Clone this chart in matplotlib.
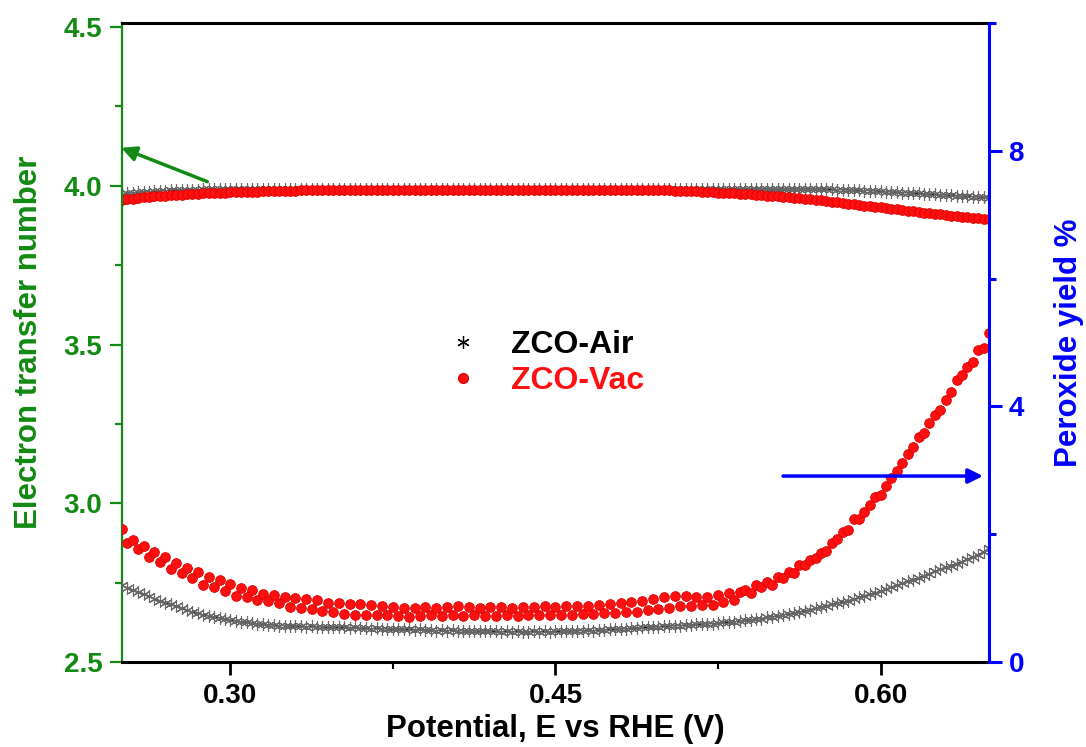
import matplotlib
matplotlib.use('Agg')
import matplotlib.pyplot as plt
from matplotlib.lines import Line2D
from matplotlib.ticker import MultipleLocator

plt.rcParams['font.family'] = ['Liberation Sans', 'DejaVu Sans']
plt.rcParams['font.weight'] = 'bold'

# potential sweep (V vs RHE)
potential = [
    0.2500, 0.2525, 0.2550, 0.2575, 0.2600, 0.2625, 0.2650, 0.2675, 0.2700, 0.2725,
    0.2750, 0.2775, 0.2800, 0.2825, 0.2850, 0.2875, 0.2900, 0.2925, 0.2950, 0.2975,
    0.3000, 0.3025, 0.3050, 0.3075, 0.3100, 0.3125, 0.3150, 0.3175, 0.3200, 0.3225,
    0.3250, 0.3275, 0.3300, 0.3325, 0.3350, 0.3375, 0.3400, 0.3425, 0.3450, 0.3475,
    0.3500, 0.3525, 0.3550, 0.3575, 0.3600, 0.3625, 0.3650, 0.3675, 0.3700, 0.3725,
    0.3750, 0.3775, 0.3800, 0.3825, 0.3850, 0.3875, 0.3900, 0.3925, 0.3950, 0.3975,
    0.4000, 0.4025, 0.4050, 0.4075, 0.4100, 0.4125, 0.4150, 0.4175, 0.4200, 0.4225,
    0.4250, 0.4275, 0.4300, 0.4325, 0.4350, 0.4375, 0.4400, 0.4425, 0.4450, 0.4475,
    0.4500, 0.4525, 0.4550, 0.4575, 0.4600, 0.4625, 0.4650, 0.4675, 0.4700, 0.4725,
    0.4750, 0.4775, 0.4800, 0.4825, 0.4850, 0.4875, 0.4900, 0.4925, 0.4950, 0.4975,
    0.5000, 0.5025, 0.5050, 0.5075, 0.5100, 0.5125, 0.5150, 0.5175, 0.5200, 0.5225,
    0.5250, 0.5275, 0.5300, 0.5325, 0.5350, 0.5375, 0.5400, 0.5425, 0.5450, 0.5475,
    0.5500, 0.5525, 0.5550, 0.5575, 0.5600, 0.5625, 0.5650, 0.5675, 0.5700, 0.5725,
    0.5750, 0.5775, 0.5800, 0.5825, 0.5850, 0.5875, 0.5900, 0.5925, 0.5950, 0.5975,
    0.6000, 0.6025, 0.6050, 0.6075, 0.6100, 0.6125, 0.6150, 0.6175, 0.6200, 0.6225,
    0.6250, 0.6275, 0.6300, 0.6325, 0.6350, 0.6375, 0.6400, 0.6425, 0.6450, 0.6475,
    0.6500,
]

# electron transfer number (left axis)
n_air = [
    3.975, 3.977, 3.978, 3.980, 3.981, 3.982, 3.983, 3.984, 3.985, 3.986,
    3.986, 3.987, 3.987, 3.988, 3.988, 3.989, 3.989, 3.989, 3.990, 3.990,
    3.990, 3.990, 3.990, 3.990, 3.990, 3.990, 3.990, 3.990, 3.990, 3.990,
    3.990, 3.990, 3.990, 3.990, 3.990, 3.990, 3.990, 3.990, 3.990, 3.990,
    3.990, 3.990, 3.990, 3.990, 3.990, 3.990, 3.990, 3.990, 3.990, 3.990,
    3.990, 3.990, 3.990, 3.990, 3.990, 3.990, 3.990, 3.990, 3.990, 3.990,
    3.990, 3.990, 3.990, 3.990, 3.990, 3.990, 3.990, 3.990, 3.990, 3.990,
    3.990, 3.990, 3.990, 3.990, 3.990, 3.990, 3.990, 3.990, 3.990, 3.990,
    3.990, 3.990, 3.990, 3.990, 3.990, 3.990, 3.990, 3.990, 3.990, 3.990,
    3.990, 3.990, 3.990, 3.990, 3.990, 3.990, 3.990, 3.990, 3.990, 3.990,
    3.990, 3.990, 3.990, 3.990, 3.990, 3.990, 3.990, 3.990, 3.990, 3.990,
    3.990, 3.990, 3.990, 3.990, 3.990, 3.990, 3.990, 3.990, 3.990, 3.990,
    3.990, 3.990, 3.990, 3.990, 3.990, 3.990, 3.990, 3.990, 3.990, 3.990,
    3.989, 3.989, 3.988, 3.988, 3.987, 3.987, 3.986, 3.985, 3.985, 3.984,
    3.983, 3.982, 3.981, 3.980, 3.979, 3.978, 3.977, 3.976, 3.975, 3.974,
    3.973, 3.972, 3.971, 3.970, 3.969, 3.968, 3.967, 3.966, 3.965, 3.964,
    3.963,
]
n_vac = [
    3.955, 3.958, 3.960, 3.962, 3.964, 3.966, 3.967, 3.968, 3.969, 3.970,
    3.971, 3.972, 3.973, 3.974, 3.975, 3.976, 3.977, 3.978, 3.978, 3.979,
    3.980, 3.980, 3.981, 3.981, 3.982, 3.982, 3.983, 3.983, 3.984, 3.984,
    3.985, 3.985, 3.985, 3.986, 3.986, 3.986, 3.986, 3.987, 3.987, 3.987,
    3.987, 3.987, 3.987, 3.987, 3.987, 3.987, 3.987, 3.987, 3.987, 3.987,
    3.987, 3.987, 3.987, 3.987, 3.987, 3.987, 3.987, 3.987, 3.987, 3.987,
    3.987, 3.987, 3.987, 3.987, 3.987, 3.987, 3.987, 3.987, 3.987, 3.987,
    3.987, 3.987, 3.987, 3.987, 3.987, 3.987, 3.987, 3.987, 3.987, 3.987,
    3.987, 3.987, 3.987, 3.987, 3.987, 3.987, 3.987, 3.987, 3.987, 3.987,
    3.987, 3.987, 3.987, 3.987, 3.987, 3.987, 3.987, 3.987, 3.987, 3.987,
    3.986, 3.986, 3.985, 3.985, 3.984, 3.984, 3.983, 3.982, 3.981, 3.980,
    3.979, 3.978, 3.977, 3.976, 3.975, 3.974, 3.973, 3.972, 3.971, 3.969,
    3.968, 3.967, 3.966, 3.964, 3.963, 3.961, 3.959, 3.958, 3.956, 3.954,
    3.952, 3.950, 3.948, 3.946, 3.944, 3.942, 3.940, 3.938, 3.936, 3.934,
    3.932, 3.930, 3.928, 3.926, 3.924, 3.922, 3.920, 3.918, 3.916, 3.914,
    3.912, 3.910, 3.908, 3.906, 3.905, 3.903, 3.901, 3.900, 3.898, 3.897,
    3.895,
]

# peroxide yield % (right axis)
h2o2_air = [
    1.20, 1.16, 1.13, 1.09, 1.06, 1.03, 0.99, 0.96, 0.93, 0.90,
    0.87, 0.84, 0.81, 0.78, 0.76, 0.74, 0.72, 0.70, 0.69, 0.67,
    0.66, 0.64, 0.63, 0.62, 0.61, 0.60, 0.59, 0.58, 0.58, 0.57,
    0.57, 0.56, 0.56, 0.56, 0.55, 0.56, 0.55, 0.55, 0.54, 0.55,
    0.54, 0.54, 0.53, 0.54, 0.53, 0.53, 0.52, 0.53, 0.52, 0.52,
    0.51, 0.52, 0.51, 0.51, 0.50, 0.51, 0.50, 0.50, 0.49, 0.50,
    0.49, 0.50, 0.49, 0.49, 0.48, 0.49, 0.48, 0.49, 0.48, 0.48,
    0.47, 0.48, 0.47, 0.48, 0.47, 0.47, 0.48, 0.47, 0.48, 0.47,
    0.48, 0.48, 0.49, 0.48, 0.49, 0.49, 0.50, 0.49, 0.50, 0.50,
    0.51, 0.51, 0.52, 0.52, 0.53, 0.53, 0.54, 0.54, 0.55, 0.55,
    0.56, 0.56, 0.57, 0.57, 0.58, 0.58, 0.59, 0.59, 0.60, 0.60,
    0.61, 0.62, 0.62, 0.63, 0.64, 0.65, 0.66, 0.67, 0.68, 0.70,
    0.71, 0.72, 0.74, 0.75, 0.77, 0.78, 0.80, 0.82, 0.84, 0.86,
    0.88, 0.90, 0.92, 0.94, 0.96, 0.98, 1.01, 1.03, 1.06, 1.08,
    1.11, 1.14, 1.17, 1.20, 1.23, 1.26, 1.29, 1.32, 1.35, 1.38,
    1.42, 1.45, 1.48, 1.51, 1.54, 1.57, 1.61, 1.64, 1.68, 1.72,
    1.78,
]
h2o2_vac = [
    2.08, 1.86, 1.91, 1.77, 1.82, 1.64, 1.72, 1.56, 1.64, 1.46,
    1.55, 1.39, 1.47, 1.31, 1.41, 1.20, 1.33, 1.17, 1.28, 1.11,
    1.22, 1.03, 1.16, 1.02, 1.13, 0.97, 1.06, 0.95, 1.05, 0.92,
    1.02, 0.86, 1.00, 0.85, 0.99, 0.83, 0.97, 0.80, 0.93, 0.78,
    0.92, 0.75, 0.91, 0.74, 0.90, 0.74, 0.89, 0.74, 0.87, 0.73,
    0.86, 0.72, 0.85, 0.71, 0.85, 0.72, 0.86, 0.73, 0.85, 0.72,
    0.86, 0.73, 0.87, 0.72, 0.86, 0.73, 0.85, 0.72, 0.86, 0.72,
    0.86, 0.73, 0.85, 0.72, 0.86, 0.73, 0.86, 0.73, 0.87, 0.74,
    0.86, 0.74, 0.87, 0.74, 0.87, 0.75, 0.88, 0.75, 0.89, 0.76,
    0.90, 0.77, 0.92, 0.78, 0.94, 0.79, 0.96, 0.81, 0.99, 0.83,
    1.01, 0.85, 1.03, 0.87, 1.04, 0.88, 1.02, 0.89, 1.02, 0.89,
    1.05, 0.94, 1.08, 0.97, 1.10, 1.13, 1.08, 1.20, 1.17, 1.25,
    1.20, 1.33, 1.31, 1.41, 1.39, 1.52, 1.52, 1.60, 1.63, 1.71,
    1.74, 1.86, 1.92, 2.03, 2.07, 2.24, 2.24, 2.35, 2.46, 2.58,
    2.61, 2.75, 2.88, 2.99, 3.11, 3.26, 3.36, 3.52, 3.58, 3.74,
    3.87, 3.94, 4.10, 4.23, 4.41, 4.49, 4.62, 4.69, 4.88, 4.91,
    5.15,
]

labels = ['ZCO-Air', 'ZCO-Vac']
green = '#138a13'
blue = '#0000ff'
red = '#ff1010'

fig = plt.figure(figsize=(10.86, 7.47), dpi=100)
ax = fig.add_axes([0.1123, 0.1138, 0.7984, 0.8554])
ax2 = ax.twinx()

air_style = dict(color='black', lw=0.8, marker=(6, 2, 0), markersize=9,
                 markeredgecolor='#666666', markeredgewidth=0.8)
vac_style = dict(ls='none', marker='o', markersize=7, markerfacecolor=red,
                 markeredgecolor='#dd0000', markeredgewidth=0.6)

ax.plot(potential, n_air, **air_style)
ax.plot(potential, n_vac, **vac_style)
ax2.plot(potential, h2o2_air, **air_style)
ax2.plot(potential, h2o2_vac, **vac_style)

ax.set_xlim(0.25, 0.65)
ax.set_ylim(2.5, 4.513)
ax2.set_ylim(0, 10)

ax.xaxis.set_minor_locator(MultipleLocator(0.075))
ax.yaxis.set_minor_locator(MultipleLocator(0.25))
ax2.yaxis.set_minor_locator(MultipleLocator(2))
ax.set_xticks([0.30, 0.45, 0.60])
ax.set_xticklabels(['0.30', '0.45', '0.60'])
ax.set_yticks([2.5, 3.0, 3.5, 4.0, 4.5])
ax.set_yticklabels(['2.5', '3.0', '3.5', '4.0', '4.5'])
ax2.set_yticks([0, 4, 8])

# spines
for s in ['left', 'right', 'top', 'bottom']:
    ax2.spines[s].set_visible(s == 'right')
ax.spines['right'].set_visible(False)
ax.spines['left'].set_color(green)
ax.spines['left'].set_linewidth(1.6)
ax.spines['top'].set_linewidth(2.2)
ax.spines['bottom'].set_linewidth(2.2)
ax2.spines['right'].set_color(blue)
ax2.spines['right'].set_linewidth(2.2)

ax.tick_params(axis='x', which='major', direction='out', length=9, width=2,
               labelsize=20, pad=6, top=False)
ax.tick_params(axis='x', which='minor', direction='out', length=5, width=1.5, top=False)
ax.tick_params(axis='y', which='major', direction='out', length=9, width=1.6,
               colors=green, labelsize=20, pad=5)
ax.tick_params(axis='y', which='minor', direction='out', length=5, width=1.6, colors=green)
ax2.tick_params(axis='y', which='major', direction='out', length=9, width=2.2,
                colors=blue, labelsize=20, pad=5)
ax2.tick_params(axis='y', which='minor', direction='out', length=5, width=2.2, colors=blue)

ax.set_xlabel('Potential, E vs RHE (V)', fontsize=22.5, fontweight='bold')
ax.set_ylabel('Electron transfer number', fontsize=22.5, fontweight='bold', color=green)
ax2.set_ylabel('Peroxide yield %', fontsize=22.5, fontweight='bold', color=blue)
ax.xaxis.set_label_coords(0.5, -0.082)
ax.yaxis.set_label_coords(-0.090, 0.5)
ax2.yaxis.set_label_coords(1.075, 0.5)

# axis-pointing arrows
ax.annotate('', xy=(0.2485, 4.123), xytext=(0.2906, 4.01),
            arrowprops=dict(arrowstyle='-|>', color=green, lw=2.5, mutation_scale=22),
            annotation_clip=False)
ax2.annotate('', xy=(0.6485, 2.91), xytext=(0.5537, 2.91),
             arrowprops=dict(arrowstyle='-|>', color=blue, lw=2.5, mutation_scale=22),
             annotation_clip=False)

handles = [
    Line2D([], [], ls='none', marker=(6, 2, 0), markersize=9, color='black',
           markeredgewidth=0.9),
    Line2D([], [], ls='none', marker='o', markersize=7, markerfacecolor=red,
           markeredgecolor='#dd0000'),
]
leg = ax.legend(handles, labels, loc='center', bbox_to_anchor=(0.489, 0.468),
                frameon=False, handlelength=1.0, handletextpad=1.0,
                labelspacing=0.2, prop={'weight': 'bold', 'size': 23})
for txt, c in zip(leg.get_texts(), ['black', red]):
    txt.set_color(c)

fig.savefig('out.png', dpi=100)
